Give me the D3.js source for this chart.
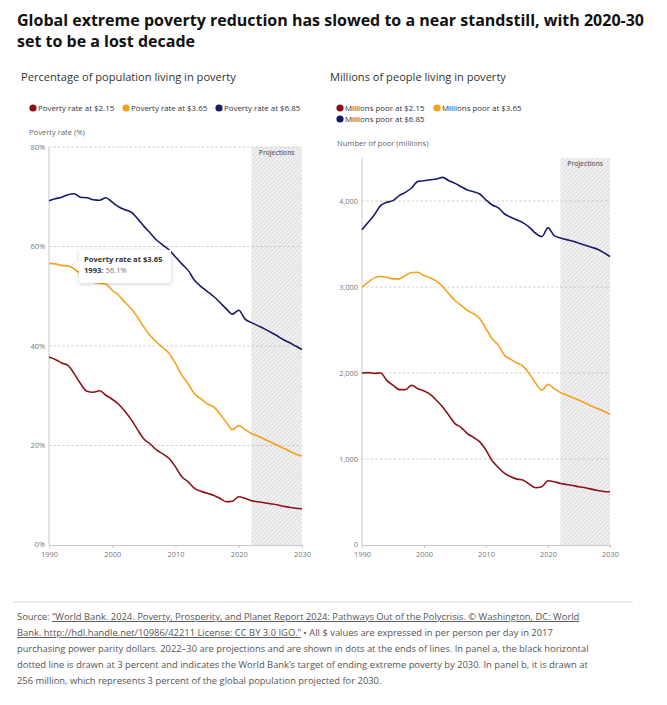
<!DOCTYPE html>
<html><head><meta charset="utf-8">
<script src="https://cdn.jsdelivr.net/npm/d3@7/dist/d3.min.js"></script>
<style>
body{margin:0;background:#fff;font-family:"Open Sans",sans-serif;}
svg{display:block}
</style></head><body>
<svg id="c" width="667" height="705"></svg>
<script>
const years = d3.range(1990, 2031);
const rate215 = [37.8,37.3,36.6,36.1,34.4,32.4,30.9,30.7,31.0,30.1,29.3,28.3,26.9,25.2,23.2,21.3,20.3,19.1,18.3,17.4,15.7,13.7,12.7,11.4,10.8,10.4,10.0,9.4,8.7,8.8,9.7,9.4,8.9,8.7,8.5,8.3,8.1,7.8,7.6,7.4,7.3];
const rate365 = [56.6,56.5,56.2,56.1,55.5,54.5,53.5,52.8,52.6,52.4,51.2,50.2,48.8,47.5,45.8,43.8,42.1,40.8,39.7,38.5,36.5,34.1,32.4,30.4,29.4,28.4,27.8,26.4,24.7,23.2,24.0,23.2,22.4,21.9,21.3,20.7,20.1,19.5,18.9,18.3,17.9];
const rate685 = [69.2,69.6,69.9,70.4,70.6,69.9,69.8,69.4,69.3,69.8,68.9,68.0,67.4,66.9,65.6,64.1,62.7,61.3,60.3,59.3,57.9,56.5,55.2,53.2,52.0,51.0,50.0,48.8,47.5,46.4,47.2,45.4,44.7,44.1,43.5,42.8,42.1,41.3,40.7,40.0,39.3];
const poor215 = [2000,2004,1996,2000,1915,1857,1807,1807,1857,1818,1791,1752,1683,1605,1509,1412,1366,1296,1250,1199,1103,979,901,832,793,766,754,708,665,677,747,735,716,704,692,677,665,650,634,623,619];
const poor365 = [2998,3056,3106,3122,3114,3095,3095,3133,3168,3172,3133,3106,3068,3006,2921,2843,2785,2727,2689,2631,2515,2398,2321,2205,2159,2116,2077,1992,1884,1799,1868,1818,1772,1745,1714,1683,1652,1617,1586,1555,1520];
const poor685 = [3667,3752,3841,3946,3985,4004,4062,4101,4151,4228,4236,4248,4255,4275,4236,4205,4166,4128,4108,4081,4012,3954,3919,3849,3811,3780,3745,3694,3625,3586,3687,3598,3571,3551,3532,3509,3485,3462,3439,3400,3354];
const xTicks = [1990, 2000, 2010, 2020, 2030];
const rateTicks = [0, 20, 40, 60, 80];
const poorTicks = [0, 1000, 2000, 3000, 4000];
const rateLegend = ["Poverty rate at $2.15", "Poverty rate at $3.65", "Poverty rate at $6.85"];
const poorLegend = ["Millions poor at $2.15", "Millions poor at $3.65", "Millions poor at $6.85"];
const projStart = 2022;
const colors = ["#8e1018", "#f4a21c", "#161b6b"];

const svg = d3.select("#c");
const defs = svg.append("defs");
const pat = defs.append("pattern").attr("id","hatch").attr("patternUnits","userSpaceOnUse")
  .attr("width",3).attr("height",3).attr("patternTransform","rotate(45)");
pat.append("rect").attr("width",3).attr("height",3).attr("fill","#f1f1f1");
pat.append("line").attr("x1",0).attr("y1",0).attr("x2",0).attr("y2",3).attr("stroke","#c4c4c4").attr("stroke-width",0.9);
const flt = defs.append("filter").attr("id","shadow").attr("x","-20%").attr("y","-30%").attr("width","140%").attr("height","160%");
flt.append("feDropShadow").attr("dx",0).attr("dy",1).attr("stdDeviation",2).attr("flood-color","#000").attr("flood-opacity",0.18);

// Title
const title = svg.append("text").attr("x",17).attr("y",26).attr("font-size",16).attr("font-weight",700).attr("fill","#111");
title.append("tspan").attr("x",17).attr("y",26).text("Global extreme poverty reduction has slowed to a near standstill, with 2020-30");
title.append("tspan").attr("x",17).attr("y",47).text("set to be a lost decade");

function panel(opt){
  const g = svg.append("g");
  g.append("text").attr("x",opt.subX).attr("y",81).attr("font-size",11.1).attr("fill","#333").text(opt.subtitle);
  // legend
  opt.legend.forEach((t,i)=>{
    const p = opt.legendPos[i];
    g.append("circle").attr("cx",p[0]).attr("cy",p[1]).attr("r",3.6).attr("fill",colors[i]);
    g.append("text").attr("x",p[0]+5).attr("y",p[1]+2.7).attr("font-size",7.9).attr("fill","#333").text(t);
  });
  g.append("text").attr("x",opt.axTitleX).attr("y",opt.axTitleY).attr("font-size",7.6).attr("fill","#666").text(opt.axTitle);

  const x = d3.scaleLinear().domain([1990,2030]).range([opt.x0, opt.x1]);
  const y = d3.scaleLinear().domain([0, opt.yMax]).range([opt.y0, opt.y1]);

  // projections
  g.append("rect").attr("x",x(projStart)).attr("y",y(opt.yMax)).attr("width",x(2030)-x(projStart))
    .attr("height",y(0)-y(opt.yMax)).attr("fill","url(#hatch)");
  g.append("text").attr("x",(x(projStart)+x(2030))/2).attr("y",y(opt.yMax)+7.5).attr("text-anchor","middle")
    .attr("font-size",6.6).attr("font-weight",600).attr("fill","#666").text("Projections");

  // grid
  g.append("g").selectAll("line").data(opt.yTicks.filter(d=>d>0)).join("line")
    .attr("x1",x(1990)).attr("x2",x(2030)).attr("y1",d=>y(d)).attr("y2",d=>y(d))
    .attr("stroke","#c4c4c4").attr("stroke-width",0.8).attr("stroke-dasharray","2.5,2");

  // y axis
  const ya = g.append("g").attr("transform",`translate(${opt.x0},0)`)
    .call(d3.axisLeft(y).tickValues(opt.yTicks).tickFormat(opt.fmt).tickSize(0).tickPadding(4));
  ya.select(".domain").attr("stroke","#c8c8cc").attr("d",`M0,${y(opt.yMax)}V${y(0)}`);
  ya.selectAll("text").attr("font-size",7.4).attr("fill","#777").attr("font-family","Open Sans");
  ya.selectAll(".tick").filter(d=>d===0).select("text").attr("dy","0.15em");

  // x axis
  const xa = g.append("g").attr("transform",`translate(0,${opt.y0})`)
    .call(d3.axisBottom(x).tickValues(xTicks).tickFormat(d3.format("d")).tickSize(3).tickPadding(3.5));
  xa.select(".domain").attr("stroke","#c8c8cc");
  xa.selectAll(".tick line").attr("stroke","#c8c8cc");
  xa.selectAll("text").attr("font-size",7.4).attr("fill","#777").attr("font-family","Open Sans");

  const line = d3.line().x((d,i)=>x(years[i])).y(d=>y(d)).curve(d3.curveMonotoneX);
  opt.series.forEach((s,i)=>{
    g.append("path").attr("d",line(s)).attr("fill","none").attr("stroke",colors[i]).attr("stroke-width",1.6)
      .attr("stroke-linejoin","round");
  });
  return {x,y};
}

const L = panel({subtitle:"Percentage of population living in poverty", subX:21,
  legend:rateLegend, legendPos:[[33,108],[126,108],[219,108]],
  axTitle:"Poverty rate (%)", axTitleX:29, axTitleY:135,
  x0:49, x1:302, y0:545, y1:147, yMax:80, yTicks:rateTicks, fmt:d=>d+"%",
  series:[rate215, rate365, rate685]});

const R = panel({subtitle:"Millions of people living in poverty", subX:330,
  legend:poorLegend, legendPos:[[340,108],[437,108],[340,119]],
  axTitle:"Number of poor (millions)", axTitleX:337, axTitleY:146,
  x0:362, x1:610, y0:545, y1:158, yMax:4500, yTicks:poorTicks, fmt:d3.format(","),
  series:[poor215, poor365, poor685]});

// tooltip
const ti = 3; // 1993
const px = L.x(years[ti]), py = L.y(rate365[ti]);
const tg = svg.append("g");
const bx = 79, by = 250, bw = 92, bh = 33;
tg.append("path").attr("filter","url(#shadow)").attr("fill","#fff")
  .attr("d",`M${bx},${by}H${bx+bw}V${by+bh}H${bx}V${py+5}L${px+4},${py}L${bx},${py-5}Z`);
tg.append("text").attr("x",bx+5).attr("y",by+12).attr("font-size",7.6).attr("font-weight",700).attr("fill","#333").text("Poverty rate at $3.65");
const t2 = tg.append("text").attr("x",bx+5).attr("y",by+23).attr("font-size",7.6).attr("fill","#333");
t2.append("tspan").attr("font-weight",700).text(years[ti]+": ");
t2.append("tspan").attr("fill","#777").text(rate365[ti].toFixed(1)+"%");

// footer
svg.append("line").attr("x1",13).attr("x2",633).attr("y1",602).attr("y2",602).attr("stroke","#ddd");
const fs = 9.4, fc = "#555";
const f = svg.append("g").attr("font-size",fs).attr("fill",fc);
const l1 = f.append("text").attr("x",17).attr("y",620);
l1.append("tspan").text("Source: ");
l1.append("tspan").attr("text-decoration","underline").text("\u201CWorld Bank. 2024. Poverty, Prosperity, and Planet Report 2024: Pathways Out of the Polycrisis. \u00A9 Washington, DC: World");
const l2 = f.append("text").attr("x",17).attr("y",636);
l2.append("tspan").attr("text-decoration","underline").text("Bank. http://hdl.handle.net/10986/42211 License: CC BY 3.0 IGO.\u201D");
l2.append("tspan").text(" \u2022 All $ values are expressed in per person per day in 2017");
f.append("text").attr("x",17).attr("y",652).text("purchasing power parity dollars. 2022\u201330 are projections and are shown in dots at the ends of lines. In panel a, the black horizontal");
f.append("text").attr("x",17).attr("y",668).text("dotted line is drawn at 3 percent and indicates the World Bank\u2019s target of ending extreme poverty by 2030. In panel b, it is drawn at");
f.append("text").attr("x",17).attr("y",684).text("256 million, which represents 3 percent of the global population projected for 2030.");
</script>
</body></html>
